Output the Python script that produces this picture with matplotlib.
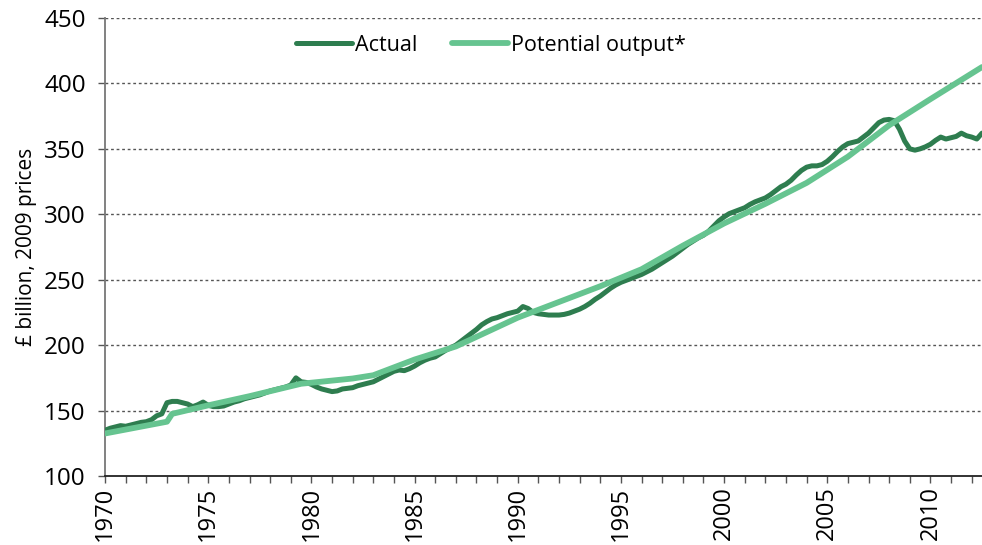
import numpy as np
import matplotlib
matplotlib.use('Agg')
import matplotlib.pyplot as plt

plt.rcParams['font.family'] = ['Open Sans', 'DejaVu Sans']

# actual output, quarterly 1970Q1 - 2012Q3 (£ billion, 2009 prices)
actual = [
    135, 136.5, 137.5, 138.5,   # 1970
    138, 139, 140, 141,         # 1971
    141.5, 143, 146, 147.5,     # 1972
    156, 157, 157, 156,         # 1973
    155, 153, 154.5, 156.5,     # 1974
    154, 153, 153, 153.5,       # 1975
    155, 156.5, 157.5, 159,     # 1976
    160, 161, 162, 163.5,       # 1977
    165, 166, 167, 168,         # 1978
    169.5, 175, 172, 171.5,     # 1979
    170, 168, 166.5, 165.5,     # 1980
    164.5, 165, 166.5, 167,     # 1981
    167.5, 169, 170, 171,       # 1982
    172, 174, 176, 178,         # 1983
    180, 181, 180.5, 182,       # 1984
    184, 186.5, 188.5, 190,     # 1985
    191, 193.5, 196, 198,       # 1986
    200, 203, 206, 209,         # 1987
    212, 215.5, 218, 220,       # 1988
    221, 222.5, 224, 225,       # 1989
    226, 229.5, 228, 225,       # 1990
    224, 223.5, 223, 223,       # 1991
    223, 223.5, 224.5, 226,     # 1992
    227.5, 229.5, 232, 235,     # 1993
    237.5, 240.5, 243.5, 246,   # 1994
    248, 249.5, 251, 252.5,     # 1995
    254, 256, 258, 260.5,       # 1996
    263, 265.5, 268, 271,       # 1997
    274, 277, 279.5, 282,       # 1998
    284, 287, 291, 295,         # 1999
    298, 300.5, 302, 303.5,     # 2000
    305, 307.5, 309.5, 311,     # 2001
    312.5, 315, 318, 321,       # 2002
    323, 326, 330, 333.5,       # 2003
    336, 337, 337, 338,         # 2004
    340.5, 344, 348, 351.5,     # 2005
    354, 355, 356, 359,         # 2006
    362, 366, 370, 372,         # 2007
    372.5, 371.5, 365, 356,     # 2008
    350, 349, 350, 351.5,       # 2009
    353.5, 356.5, 359, 357.5,   # 2010
    358.5, 359.5, 362, 360,     # 2011
    359, 357.5, 362,            # 2012
]
actual_x = 1970 + 0.25 * np.arange(len(actual))

# potential output (trend), read at turning points
pot_x = [1970, 1973, 1973.25, 1975, 1977, 1979.5, 1982, 1983, 1985, 1987,
         1990, 1992, 1994, 1996, 1998, 2000, 2002, 2004, 2006, 2008, 2010, 2012.5]
pot_y = [132.5, 141.5, 147.5, 154, 161, 170.5, 174.5, 177, 189, 199,
         221, 233, 245, 258, 276, 293, 308, 324, 344, 368, 388, 412.5]

fig = plt.figure(figsize=(9.82, 5.45), dpi=100)
ax = fig.add_axes([0.107, 0.1266, 0.893, 0.8404])

ax.plot(actual_x, actual, color='#2e7d4f', lw=3.6, label='Actual',
        solid_capstyle='round', zorder=3)
ax.plot(pot_x, pot_y, color='#66c490', lw=4.2, label='Potential output*',
        solid_capstyle='round', zorder=4)

ax.set_xlim(1970, 2012.5)
ax.set_ylim(100, 450)
ax.set_yticks(np.arange(100, 451, 50))
ax.set_xticks(np.arange(1970, 2011, 5))
ax.set_xticks(np.arange(1970, 2013, 1), minor=True)
ax.tick_params(axis='x', which='both', direction='out', length=5, width=1,
               color='#555555', labelsize=17, rotation=90, pad=2.5)
ax.tick_params(axis='y', direction='out', length=5, width=1,
               color='#555555', labelsize=17.5, pad=9)

for v in np.arange(150, 451, 50):
    ax.axhline(v, color='#555555', lw=1, ls=(0, (2, 2)), zorder=1)

for s in ['top', 'right']:
    ax.spines[s].set_visible(False)
ax.spines['left'].set_color('#777777')
ax.spines['left'].set_linewidth(1.3)
ax.spines['bottom'].set_color('#222222')
ax.spines['bottom'].set_linewidth(1.3)

ax.set_ylabel('£ billion, 2009 prices', fontsize=15, labelpad=5)

ax.legend(loc='center', bbox_to_anchor=(0.44, 0.94), ncol=2, frameon=False,
          fontsize=15.5, handlelength=2.6, handletextpad=0.15, columnspacing=1.6)

fig.savefig('out.png', dpi=100)
